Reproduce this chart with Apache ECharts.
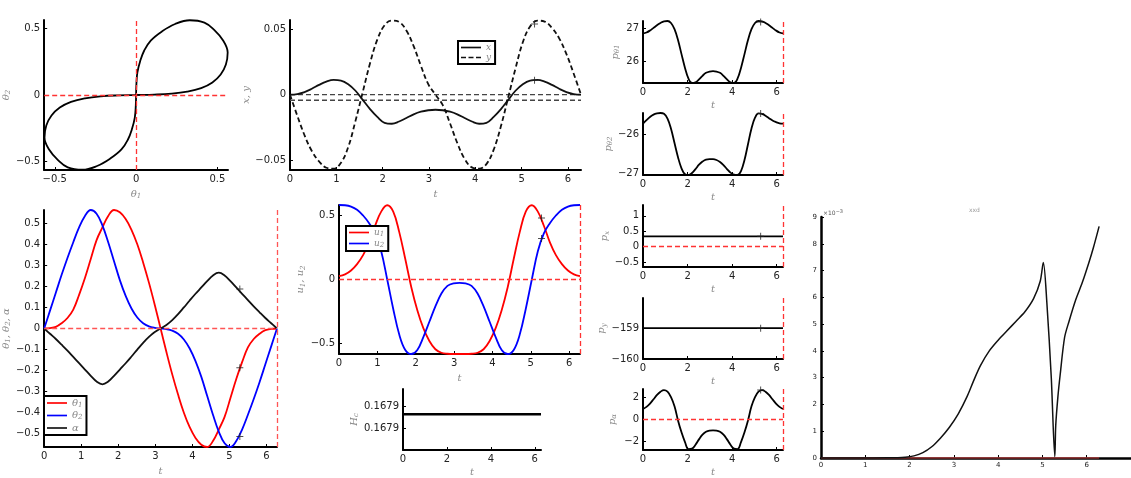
<!DOCTYPE html>
<html><head><meta charset="utf-8">
<script src="https://cdn.jsdelivr.net/npm/echarts@6/dist/echarts.min.js"></script>
<style>html,body{margin:0;padding:0;background:#fff}#c{width:1131px;height:478px}</style>
</head><body><div id="c"></div>
<script>
const TWO_PI = 6.2832;
const T = [0,0.157,0.314,0.471,0.628,0.785,0.942,1.100,1.257,1.414,1.571,1.728,1.885,2.042,2.199,2.356,2.513,2.670,2.827,2.985,3.142,3.299,3.456,3.613,3.770,3.927,4.084,4.241,4.398,4.555,4.712,4.869,5.027,5.184,5.341,5.498,5.655,5.812,5.969,6.126,6.283];
const theta1 = [0,0.002,0.008,0.025,0.05,0.09,0.16,0.24,0.33,0.42,0.48,0.535,0.563,0.552,0.52,0.469,0.40,0.314,0.218,0.112,0,-0.112,-0.218,-0.314,-0.40,-0.469,-0.52,-0.552,-0.563,-0.535,-0.48,-0.42,-0.33,-0.24,-0.16,-0.09,-0.05,-0.025,-0.008,-0.002,0];
const theta2 = [0,0.085,0.17,0.255,0.335,0.41,0.48,0.535,0.563,0.545,0.49,0.41,0.32,0.23,0.155,0.095,0.052,0.025,0.01,0.003,0,-0.003,-0.01,-0.025,-0.052,-0.095,-0.155,-0.23,-0.32,-0.41,-0.49,-0.545,-0.563,-0.535,-0.48,-0.41,-0.335,-0.255,-0.17,-0.085,0];
const alpha = [0,-0.025,-0.05,-0.077,-0.105,-0.135,-0.165,-0.195,-0.225,-0.252,-0.265,-0.252,-0.225,-0.195,-0.165,-0.133,-0.10,-0.068,-0.04,-0.017,0,0.017,0.04,0.068,0.10,0.133,0.165,0.195,0.225,0.252,0.265,0.252,0.225,0.195,0.165,0.135,0.105,0.077,0.05,0.025,0];
const posX = [0,0.0005,0.002,0.0045,0.0075,0.010,0.0113,0.0108,0.008,0.003,-0.004,-0.011,-0.017,-0.0215,-0.0222,-0.0205,-0.0178,-0.015,-0.013,-0.0119,-0.0115,-0.0119,-0.013,-0.015,-0.0178,-0.0205,-0.0222,-0.0215,-0.017,-0.011,-0.004,0.003,0.008,0.0108,0.0113,0.010,0.0075,0.0045,0.002,0.0005,0];
const posY = [0,-0.016,-0.031,-0.043,-0.051,-0.0558,-0.0565,-0.052,-0.040,-0.020,0.002,0.024,0.042,0.053,0.0565,0.0555,0.049,0.037,0.022,0.008,0,-0.008,-0.022,-0.037,-0.049,-0.0555,-0.0565,-0.053,-0.042,-0.024,-0.002,0.020,0.040,0.052,0.0565,0.0558,0.051,0.043,0.031,0.016,0];
const xyRefLevels = [0, -0.0043];
const u1 = [0.026,0.04,0.07,0.12,0.19,0.29,0.42,0.53,0.58,0.53,0.37,0.16,-0.06,-0.24,-0.38,-0.48,-0.545,-0.572,-0.58,-0.582,-0.582,-0.582,-0.58,-0.572,-0.545,-0.48,-0.38,-0.24,-0.06,0.16,0.37,0.53,0.58,0.53,0.42,0.29,0.19,0.12,0.07,0.04,0.026];
const u2 = [0.582,0.58,0.57,0.545,0.50,0.44,0.36,0.22,0.0,-0.23,-0.43,-0.55,-0.582,-0.55,-0.45,-0.33,-0.21,-0.11,-0.05,-0.03,-0.026,-0.03,-0.05,-0.11,-0.21,-0.33,-0.45,-0.55,-0.582,-0.55,-0.43,-0.23,0.0,0.22,0.36,0.44,0.50,0.545,0.57,0.58,0.582];
const pTh1 = [26.85,26.88,26.94,27.02,27.10,27.17,27.22,27.23,27.17,26.98,26.65,26.22,25.80,25.47,25.34,25.36,25.45,25.56,25.65,25.69,25.70,25.69,25.65,25.56,25.45,25.36,25.34,25.47,25.80,26.22,26.65,26.98,27.17,27.23,27.22,27.17,27.10,27.02,26.94,26.88,26.85];
const pTh2 = [-25.73,-25.64,-25.56,-25.50,-25.47,-25.46,-25.48,-25.60,-25.86,-26.22,-26.58,-26.86,-27.01,-27.03,-26.98,-26.88,-26.77,-26.69,-26.64,-26.63,-26.63,-26.65,-26.70,-26.78,-26.88,-26.97,-27.02,-27.03,-26.93,-26.65,-26.25,-25.85,-25.58,-25.47,-25.48,-25.53,-25.59,-25.65,-25.69,-25.72,-25.73];
const pAlpha = [0.95,1.15,1.45,1.85,2.25,2.55,2.70,2.55,2.05,1.2,-0.1,-1.2,-2.1,-2.75,-2.70,-2.35,-1.85,-1.42,-1.15,-1.04,-1.02,-1.04,-1.15,-1.42,-1.85,-2.35,-2.70,-2.75,-2.1,-1.2,-0.1,1.2,2.05,2.55,2.70,2.55,2.25,1.85,1.45,1.15,0.95];
const constT = [0, 6.283];
const pX = [0.335, 0.335];
const pY = [-159, -159];
const Hc = [0.167913, 0.167913];
const errT = [0,0.5,1.0,1.5,1.9,2.1,2.3,2.5,2.7,2.9,3.1,3.3,3.45,3.6,3.8,4.0,4.2,4.4,4.6,4.8,4.95,5.02,5.1,5.2,5.28,5.3,5.35,5.4,5.5,5.6,5.75,5.9,6.05,6.15,6.28];
const errV = [0,0,0,0.005,0.03,0.08,0.2,0.42,0.75,1.15,1.65,2.3,2.9,3.45,4.0,4.4,4.75,5.1,5.45,5.95,6.6,7.3,5.8,3.0,0.05,1.2,2.3,3.1,4.5,5.1,5.9,6.55,7.3,7.85,8.65];
const errRefT = [0, 6.28];
const errRefV = [0, 0];
const plusT = 5.28;
const plusVals = {x:0.011, y:0.054, pth1:27.2, pth2:-25.47, px:0.335, py:-159, pal:2.7, al:0.188, th1:-0.186, th2:-0.513, u1:0.48, u2:0.32};
const tTicks = [0,1,2,3,4,5,6];
const tTicks2 = [0,2,4,6];

const FONT = 'DejaVu Sans';
const GREY = '#8a8a8a';
const LW = 1.8;
const nameTS = {color:GREY, fontFamily:'DejaVu Serif', fontStyle:'italic', fontSize:10,
  rich:{a:{color:GREY, fontFamily:'DejaVu Serif', fontStyle:'italic', fontSize:10},
        s:{fontSize:7, color:GREY, fontFamily:'DejaVu Serif', fontStyle:'italic', verticalAlign:'bottom', padding:[5,0,0,0]}}};
function fmt(v){ const r = +(+v).toFixed(6); return (r < 0 ? '\u2212' : '') + String(Math.abs(r)); }
const grids=[], xAxes=[], yAxes=[], series=[], legends=[];
function axis(gi, min, max, ticks, name, gap, fs, lfmt){
  return {type:'value', gridIndex:gi, min:min, max:max, name:name||'', nameLocation:'middle', nameGap:gap||0, nameTextStyle:nameTS,
    axisLine:{show:true, onZero:false, lineStyle:{color:'#000', width:2}},
    axisTick:{show:true, inside:true, length:3, customValues:ticks, lineStyle:{color:'#000', width:1}},
    axisLabel:{customValues:ticks, formatter:lfmt||fmt, color:'#222', fontFamily:FONT, fontSize:fs||10, margin:4},
    splitLine:{show:false}};
}
function addPanel(rect, xa, ya){
  const gi = grids.length;
  grids.push({left:rect[0], top:rect[1], width:rect[2], height:rect[3]});
  xAxes.push(axis(gi, ...xa));
  yAxes.push(axis(gi, ...ya));
  return gi;
}
function pairs(xs, ys){ return xs.map((x,i)=>[x, ys[i]]); }
function line(gi, data, color, o){
  o = o || {};
  const s = {type:'line', xAxisIndex:gi, yAxisIndex:gi, data:data, showSymbol:false, symbol:'none',
    smooth:o.smooth===undefined?0.4:o.smooth,
    lineStyle:{color:color, width:o.width||LW, type:o.dash||'solid'}, itemStyle:{color:color}, animation:false, silent:true, z:o.z||3};
  if (o.name) s.name = o.name;
  if (o.mark) s.markLine = {silent:true, symbol:['none','none'], label:{show:false}, animation:false,
    lineStyle:{color:o.markColor||'#ff3333', type:[5,3], width:1.3}, data:o.mark};
  series.push(s);
}
const PLUS = 'path://M0,4.3H10V5.7H0Z M4.3,0H5.7V10H4.3Z';
function plus(gi, v){
  series.push({type:'scatter', xAxisIndex:gi, yAxisIndex:gi, data:[[plusT, v]], symbol:PLUS, symbolSize:7,
    itemStyle:{color:'#222'}, silent:true, animation:false, z:5});
}
const vMark = [{xAxis:TWO_PI}];
const hvMark = [{xAxis:TWO_PI},{yAxis:0}];

// P1 phase
let g = addPanel([36,20,192,150], [-0.565,0.565,[-0.5,0,0.5],'{a|θ}{s|1}',18], [-0.565,0.565,[-0.5,0,0.5],'{a|θ}{s|2}',28]);
line(g, pairs(theta1, theta2), '#000', {mark:[{xAxis:0},{yAxis:0}]});

// P2 x,y
g = addPanel([290,20,291,150], [0,TWO_PI,tTicks,'t',19], [-0.0575,0.057,[-0.05,0,0.05],'x, y',33]);
xyRefLevels.forEach(v => line(g, pairs(constT, [v, v]), '#444', {dash:[5,3], smooth:false, width:1.4, z:2}));
line(g, pairs(T,posX), '#111', {name:'x'});
line(g, pairs(T,posY), '#111', {name:'y', dash:[5,3]});
plus(g, plusVals.x); plus(g, plusVals.y);
legends.push({left:458, top:41, names:['x','y']});

// Right column
g = addPanel([643,21,140,62], [0,TWO_PI,tTicks2,'t',17], [25.34,27.23,[26,27],'{a|p}{s|θ1}',22]);
line(g, pairs(T,pTh1), '#000', {mark:vMark}); plus(g, plusVals.pth1);
g = addPanel([643,113,140,62], [0,TWO_PI,tTicks2,'t',17], [-27.03,-25.46,[-27,-26],'{a|p}{s|θ2}',29]);
line(g, pairs(T,pTh2), '#000', {mark:vMark}); plus(g, plusVals.pth2);
g = addPanel([643,205,140,62], [0,TWO_PI,tTicks2,'t',17], [-0.66,1.35,[-0.5,0,0.5,1],'{a|p}{s|x}',27]);
line(g, pairs(constT,pX), '#000', {mark:hvMark, smooth:false}); plus(g, plusVals.px);
g = addPanel([643,298,140,61], [0,TWO_PI,tTicks2,'t',17], [-160,-158.02,[-160,-159],'{a|p}{s|y}',31]);
line(g, pairs(constT,pY), '#000', {mark:vMark, smooth:false}); plus(g, plusVals.py);
g = addPanel([643,389,140,64], [0,TWO_PI,tTicks2,'t',17], [-2.83,2.8,[-2,0,2],'{a|p}{s|α}',25]);
line(g, pairs(T,pAlpha), '#000', {mark:hvMark}); plus(g, plusVals.pal);

// P8 theta1, theta2, alpha
g = addPanel([36,210,241,237], [0,TWO_PI,tTicks,'t',19], [-0.563,0.563,[-0.5,-0.4,-0.3,-0.2,-0.1,0,0.1,0.2,0.3,0.4,0.5],'{a|θ}{s|1}{a|, θ}{s|2}{a|, α}',29]);
line(g, pairs(T,theta1), '#ff0000', {name:'θ1', mark:hvMark, markColor:'#ff5555'});
line(g, pairs(T,theta2), '#0000ff', {name:'θ2'});
line(g, pairs(T,alpha), '#111', {name:'α'});
plus(g, plusVals.al); plus(g, plusVals.th1); plus(g, plusVals.th2);
legends.push({left:44, top:396, names:['θ1','θ2','α'], big:true});

// P9 u1,u2
g = addPanel([339,205,241,149], [0,TWO_PI,tTicks,'t',19], [-0.582,0.582,[-0.5,0,0.5],'{a|u}{s|1}{a|, u}{s|2}',26]);
line(g, pairs(T,u1), '#ff0000', {name:'u1', mark:hvMark});
line(g, pairs(T,u2), '#0000ff', {name:'u2'});
plus(g, plusVals.u1); plus(g, plusVals.u2);
legends.push({left:346, top:226, names:['u1','u2']});

// P10 Hc
g = addPanel([403,389,138,64], [0,TWO_PI,tTicks2,'t',17], [0.1678803,0.167936,[0.16790,0.16792],'{a|H}{s|c}',33, 10, v=>(+v).toFixed(4)]);
line(g, pairs(constT,Hc), '#000', {width:2.6, smooth:false});

// P11 error
g = addPanel([821,217,311,241], [0,7,[0,1,2,3,4,5,6,7],'',0,7], [0,9,[0,1,2,3,4,5,6,7,8,9],'',0,7]);
xAxes[g].axisLabel.customValues = tTicks;
xAxes[g].axisLine.lineStyle.width = 2.5;
yAxes[g].axisLine.lineStyle.width = 2.5;
line(g, pairs(errRefT,errRefV), '#a83a3a', {width:1.6, smooth:false, z:2});
line(g, pairs(errT,errV), '#111', {smooth:0.3, width:1.5});

const legendMap = {'x':'{a|x}','y':'{a|y}','θ1':'{a|θ}{s|1}','θ2':'{a|θ}{s|2}','α':'{a|α}','u1':'{a|u}{s|1}','u2':'{a|u}{s|2}'};
const ICON_SOLID = 'path://M0,4H24V6H0Z';
const ICON_DASH = 'path://M0,4H6V6H0Z M9,4H15V6H9Z M18,4H24V6H18Z';
const legendOpts = legends.map(l => ({
  left:l.left, top:l.top, orient:'vertical', selectedMode:false,
  data:l.names.map(n => ({name:n, icon: n==='y' ? ICON_DASH : ICON_SOLID})),
  itemWidth:20, itemHeight:l.big?11:9, itemGap:l.big?2:1, padding:[2,4,2,3],
  borderColor:'#000', borderWidth:2, backgroundColor:'#fff', borderRadius:0,
  formatter: n => legendMap[n],
  textStyle:{color:GREY, fontFamily:'DejaVu Serif', fontStyle:'italic', fontSize:l.big?10:9,
    rich:{a:{color:GREY, fontFamily:'DejaVu Serif', fontStyle:'italic', fontSize:l.big?10:9},
          s:{color:GREY, fontFamily:'DejaVu Serif', fontStyle:'italic', fontSize:7, verticalAlign:'bottom', padding:[4,0,0,0]}}}
}));

const chart = echarts.init(document.getElementById('c'), null, {renderer:'canvas'});
chart.setOption({
  animation:false,
  backgroundColor:'#fff',
  grid:grids, xAxis:xAxes, yAxis:yAxes, series:series, legend:legendOpts,
  graphic:[
    {type:'text', left:823, top:209, silent:true, style:{text:'{a|×10}{b|−3}', rich:{a:{fontSize:6, fill:'#555', fontFamily:FONT}, b:{fontSize:5, fill:'#555', fontFamily:FONT, verticalAlign:'top', padding:[0,0,4,0]}}}},
    {type:'text', left:969, top:207, silent:true, style:{text:'xxd', fontSize:6, fill:'#999', fontFamily:FONT}}
  ]
});
</script></body></html>
